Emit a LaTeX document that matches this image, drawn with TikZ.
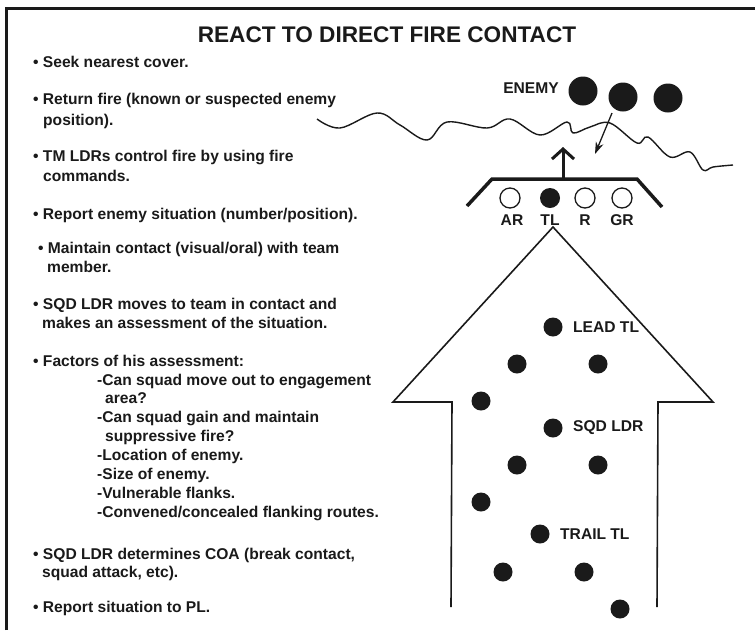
\documentclass[tikz,border=0pt]{standalone}
\usepackage{fontspec}
\setmainfont{Liberation Sans}
\usetikzlibrary{arrows.meta}
\definecolor{ink}{HTML}{1A1A1A}
\begin{document}
\begin{tikzpicture}[x=1pt,y=-1pt,
  txt/.style={anchor=base west,inner sep=0pt,font=\fontsize{15.6}{18}\selectfont\bfseries,text=ink},
  lbl/.style={anchor=base,inner sep=0pt,font=\fontsize{15.6}{18}\selectfont\bfseries,text=ink},
  dot/.style={circle,fill=ink,draw=none,minimum size=19pt,inner sep=0pt},
  enemydot/.style={circle,fill=ink,draw=none,minimum size=29pt,inner sep=0pt},
  member/.style={circle,draw=ink,line width=1.3pt,minimum size=20pt,inner sep=0pt},
  frame/.style={draw=ink,line width=3pt},
  outline/.style={draw=ink,line width=1.6pt,line join=miter}]
\useasboundingbox (0,0) rectangle (755,630);
\fill[white] (0,0) rectangle (755,630);
% frame
\coordinate (fl) at (6,630);
\coordinate (fc) at (6,8);
\coordinate (fr) at (755,8);
\draw[frame] (fl) -- (fc) -- (fr);
% title
\node[anchor=base,inner sep=0pt,font=\fontsize{22.6}{26}\selectfont\bfseries,text=ink] (title) at (387,42) {REACT TO DIRECT FIRE CONTACT};
% left text
\node[txt] (t1) at (33,67) {• Seek nearest cover.};
\node[txt] (t2) at (33,104) {• Return fire (known or suspected enemy};
\node[txt] (t2b) at (43,125) {position).};
\node[txt] (t3) at (33,161) {• TM LDRs control fire by using fire};
\node[txt] (t3b) at (43,181) {commands.};
\node[txt] (t4) at (33,219) {• Report enemy situation (number/position).};
\node[txt] (t5) at (38,253) {• Maintain contact (visual/oral) with team};
\node[txt] (t5b) at (47,272) {member.};
\node[txt] (t6) at (33,309) {• SQD LDR moves to team in contact and};
\node[txt] (t6b) at (42,328) {makes an assessment of the situation.};
\node[txt] (t7) at (33,366) {• Factors of his assessment:};
\node[txt] (s1) at (97,385) {-Can squad move out to engagement};
\node[txt] (s1b) at (105,403) {area?};
\node[txt] (s2) at (97,422) {-Can squad gain and maintain};
\node[txt] (s2b) at (105,441) {suppressive fire?};
\node[txt] (s3) at (97,460) {-Location of enemy.};
\node[txt] (s4) at (97,479) {-Size of enemy.};
\node[txt] (s5) at (97,498) {-Vulnerable flanks.};
\node[txt] (s6) at (97,517) {-Convened/concealed flanking routes.};
\node[txt] (t8) at (33,559) {• SQD LDR determines COA (break contact,};
\node[txt] (t8b) at (42,577) {squad attack, etc).};
\node[txt] (t9) at (33,612) {• Report situation to PL.};
% terrain line
\draw[ink,line width=1.4pt] plot[smooth,tension=0.6] coordinates {
 (317,119) (340,128) (377,113) (400,125) (427,140) (447,122) (487,128)
 (510,119) (540,135) (567,122) (573,133) (590,127) (610,123) (637,143)
 (648,137) (670,157) (690,152) (703,170) (713,167) (733,165)};
% enemy
\node[anchor=center,inner sep=0pt,font=\fontsize{15.6}{18}\selectfont\bfseries,text=ink] (enemy) at (531,88) {ENEMY};
\node[enemydot] (e1) at (583,91) {};
\node[enemydot] (e2) at (623,97) {};
\node[enemydot] (e3) at (668,98) {};
\coordinate (ea) at (612,113);
\coordinate (eb) at (595,154);
\draw[ink,line width=1.3pt,-{Stealth[length=12pt,width=8pt]}] (ea) -- (eb);
% fire team formation
\coordinate (b1) at (467,206);
\coordinate (b2) at (492,179);
\coordinate (b3) at (637,179);
\coordinate (b4) at (662,207);
\draw[ink,line width=3.5pt,line join=miter] (b1) -- (b2) -- (b3) -- (b4);
\coordinate (ua) at (563,179);
\coordinate (ub) at (563,147);
\draw[ink,line width=3pt,-{Straight Barb[length=10pt,width=22pt,line width=3pt]}] (ua) -- (ub);
\node[member] (ar) at (510,198) {};
\node[dot,minimum size=20pt] (tl) at (550,198) {};
\node[member] (r) at (585,198) {};
\node[member] (gr) at (622,198) {};
\node[lbl] at (512,225) {AR};
\node[lbl] at (550,225) {TL};
\node[lbl] at (585,225) {R};
\node[lbl] at (622,225) {GR};
% big arrow
\coordinate (a1) at (451,607);
\coordinate (a2) at (452,402);
\coordinate (a3) at (393,402);
\coordinate (a4) at (553,227);
\coordinate (a5) at (713,402);
\coordinate (a6) at (658,402);
\coordinate (a7) at (657,607);
\draw[outline] (a1) -- (a2) -- (a3) -- (a4) -- (a5) -- (a6) -- (a7);
% squad members
\node[dot] (lead) at (553,327) {};
\node[txt,anchor=west] at (573,327) {LEAD TL};
\node[dot] (d2) at (517,364) {};
\node[dot] (d3) at (598,364) {};
\node[dot] (d4) at (481,401) {};
\node[dot] (sl) at (553,428) {};
\node[txt,anchor=west] at (573,428) {SQD LDR};
\node[dot] (d6) at (517,465) {};
\node[dot] (d7) at (598,465) {};
\node[dot] (d8) at (481,502) {};
\node[dot] (trail) at (540,534) {};
\node[txt,anchor=west] at (560,534) {TRAIL TL};
\node[dot] (d10) at (503,572) {};
\node[dot] (d11) at (584,572) {};
\node[dot] (d12) at (620,609) {};
\end{tikzpicture}
\end{document}
